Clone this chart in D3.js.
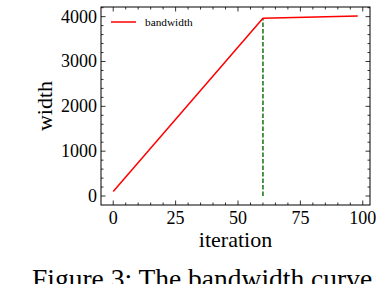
<!DOCTYPE html>
<html lang="en">
<head>
    <meta charset="UTF-8">
    <script src="https://cdn.jsdelivr.net/npm/d3@7"></script>
    <style>
        body { margin: 0; background: white; overflow: hidden; }
        text { font-family: "Liberation Serif", "Times New Roman", serif; fill: black; }
    </style>
</head>
<body>
    <div class="fig"></div>
    <script>
        // Data
        const iterations = [0, 60, 98];
        const bandwidth = [100, 3964, 4012];
        const switchIter = 60;
        const xTicks = [0, 25, 50, 75, 100];
        const yTicks = [0, 1000, 2000, 3000, 4000];

        const W = 378, H = 284;
        const box = { left: 101, right: 370, top: 7, bottom: 205 };

        const svg = d3.select(".fig").append("svg")
            .attr("width", W)
            .attr("height", H);

        const x = d3.scaleLinear().domain([-4.9, 102.9]).range([box.left, box.right]);
        const y = d3.scaleLinear().domain([-200, 4215]).range([box.bottom, box.top]);

        const xMinor = d3.range(0, 101, 5);
        const yMinor = d3.range(0, 4201, 200);

        // ticks on all four sides, pointing inward
        const ticks = svg.append("g").attr("stroke", "black").attr("stroke-width", 0.8);
        const tickSet = (vals, len, scale, horizontal) => {
            vals.forEach(v => {
                const p = scale(v);
                if (horizontal) {
                    ticks.append("line").attr("x1", p).attr("x2", p).attr("y1", box.bottom).attr("y2", box.bottom - len);
                    ticks.append("line").attr("x1", p).attr("x2", p).attr("y1", box.top).attr("y2", box.top + len);
                } else {
                    ticks.append("line").attr("y1", p).attr("y2", p).attr("x1", box.left).attr("x2", box.left + len);
                    ticks.append("line").attr("y1", p).attr("y2", p).attr("x1", box.right).attr("x2", box.right - len);
                }
            });
        };
        tickSet(xMinor.filter(v => !xTicks.includes(v)), 2.5, x, true);
        tickSet(xTicks, 4.5, x, true);
        tickSet(yMinor.filter(v => !yTicks.includes(v)), 2.5, y, false);
        tickSet(yTicks, 4.5, y, false);

        // tick labels
        svg.append("g").selectAll("text").data(xTicks).enter().append("text")
            .attr("x", d => x(d)).attr("y", 224)
            .attr("text-anchor", "middle").attr("font-size", 18)
            .text(d => d);
        svg.append("g").selectAll("text").data(yTicks).enter().append("text")
            .attr("x", 97).attr("y", d => y(d) + 6)
            .attr("text-anchor", "end").attr("font-size", 18)
            .text(d => d);

        // dashed switch line
        svg.append("line")
            .attr("x1", x(switchIter)).attr("x2", x(switchIter))
            .attr("y1", y(0)).attr("y2", y(bandwidth[1]))
            .attr("stroke", "#1f7a1f").attr("stroke-width", 1.6)
            .attr("stroke-dasharray", "4.5,2");

        // bandwidth curve
        const line = d3.line().x(d => x(d[0])).y(d => y(d[1]));
        svg.append("path")
            .datum(iterations.map((it, i) => [it, bandwidth[i]]))
            .attr("d", line)
            .attr("fill", "none")
            .attr("stroke", "red")
            .attr("stroke-width", 1.5);

        // frame
        svg.append("rect")
            .attr("x", box.left).attr("y", box.top)
            .attr("width", box.right - box.left).attr("height", box.bottom - box.top)
            .attr("fill", "none").attr("stroke", "black").attr("stroke-width", 1);

        // legend
        svg.append("line")
            .attr("x1", 111).attr("x2", 136).attr("y1", 22).attr("y2", 22)
            .attr("stroke", "red").attr("stroke-width", 1.5);
        svg.append("text")
            .attr("x", 145).attr("y", 25.5)
            .attr("font-size", 11.3)
            .text("bandwidth");

        // axis labels
        svg.append("text")
            .attr("x", (box.left + box.right) / 2).attr("y", 247)
            .attr("text-anchor", "middle").attr("font-size", 22)
            .text("iteration");
        svg.append("text")
            .attr("transform", `translate(52,${(box.top + box.bottom) / 2}) rotate(-90)`)
            .attr("text-anchor", "middle").attr("font-size", 22)
            .text("width");

        // caption (cut off by the page edge)
        svg.append("text")
            .attr("x", 32).attr("y", 288)
            .attr("font-size", 27.5)
            .text("Figure 3: The bandwidth curve");
    </script>
</body>
</html>
